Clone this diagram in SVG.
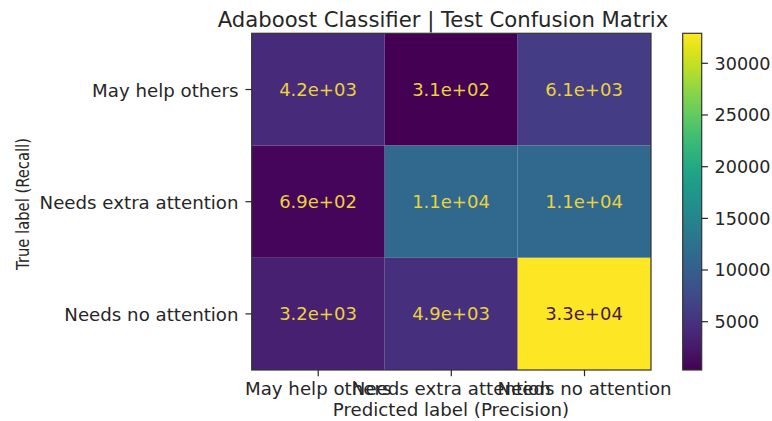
<svg xmlns="http://www.w3.org/2000/svg" width="772" height="421" viewBox="0 0 772 421">
<defs>
<linearGradient id="viridis" x1="0" y1="1" x2="0" y2="0">
<stop offset="0" stop-color="#440154"/>
<stop offset="0.05" stop-color="#471365"/>
<stop offset="0.1" stop-color="#482475"/>
<stop offset="0.15" stop-color="#463480"/>
<stop offset="0.2" stop-color="#414487"/>
<stop offset="0.25" stop-color="#3b528b"/>
<stop offset="0.3" stop-color="#355f8d"/>
<stop offset="0.35" stop-color="#2f6c8e"/>
<stop offset="0.4" stop-color="#2a788e"/>
<stop offset="0.45" stop-color="#25848e"/>
<stop offset="0.5" stop-color="#21918c"/>
<stop offset="0.55" stop-color="#1e9c89"/>
<stop offset="0.6" stop-color="#22a884"/>
<stop offset="0.65" stop-color="#2fb47c"/>
<stop offset="0.7" stop-color="#44bf70"/>
<stop offset="0.75" stop-color="#5ec962"/>
<stop offset="0.8" stop-color="#7ad151"/>
<stop offset="0.85" stop-color="#9bd93c"/>
<stop offset="0.9" stop-color="#bddf26"/>
<stop offset="0.95" stop-color="#dfe318"/>
<stop offset="1" stop-color="#fde725"/>
</linearGradient>
</defs>
<style>
text { font-family: "DejaVu Sans", "Liberation Sans", sans-serif; fill: #262626; }
.tick { font-size: 18.2px; }
.cb { font-size: 17.6px; }
.ylab { font-size: 18px; }
.title { font-size: 21.2px; }
.ann { font-size: 18px; text-anchor: middle; }
.light { fill: #e9d23c; }
.dark { fill: #4a1850; }
.tk { stroke: #262626; stroke-width: 1.2; }
.frame { fill: none; stroke: #333; stroke-width: 1.2; }
</style>
<rect width="772" height="421" fill="#ffffff"/>

<text class="title" x="443" y="26.5" text-anchor="middle">Adaboost Classifier | Test Confusion Matrix</text>

<g id="matrix">
<rect x="251.7" y="33.3" width="133" height="112.3" fill="#472a79"/>
<rect x="384.7" y="33.3" width="133" height="112.3" fill="#440154"/>
<rect x="517.7" y="33.3" width="133.3" height="112.3" fill="#443c84"/>
<rect x="251.7" y="145.6" width="133" height="112.2" fill="#45055a"/>
<rect x="384.7" y="145.6" width="133" height="112.2" fill="#31688e"/>
<rect x="517.7" y="145.6" width="133.3" height="112.2" fill="#31688e"/>
<rect x="251.7" y="257.8" width="133" height="112.2" fill="#482071"/>
<rect x="384.7" y="257.8" width="133" height="112.2" fill="#46307e"/>
<rect x="517.7" y="257.8" width="133.3" height="112.2" fill="#fde725"/>
<rect class="frame" x="251.7" y="33.3" width="399.3" height="336.7"/>
</g>

<g id="annotations">
<text class="ann light" x="318" y="96">4.2e+03</text>
<text class="ann light" x="451" y="96">3.1e+02</text>
<text class="ann light" x="584" y="96">6.1e+03</text>
<text class="ann light" x="318" y="208">6.9e+02</text>
<text class="ann light" x="451" y="208">1.1e+04</text>
<text class="ann light" x="584" y="208">1.1e+04</text>
<text class="ann light" x="318" y="320">3.2e+03</text>
<text class="ann light" x="451" y="320">4.9e+03</text>
<text class="ann dark" x="584" y="320">3.3e+04</text>
</g>

<g id="y-axis">
<line class="tk" x1="245.5" y1="89.5" x2="251.7" y2="89.5"/>
<line class="tk" x1="245.5" y1="201.7" x2="251.7" y2="201.7"/>
<line class="tk" x1="245.5" y1="313.9" x2="251.7" y2="313.9"/>
<text class="tick" x="238.5" y="96.5" text-anchor="end">May help others</text>
<text class="tick" x="238.5" y="208.5" text-anchor="end">Needs extra attention</text>
<text class="tick" x="238.5" y="320.5" text-anchor="end">Needs no attention</text>
<text class="ylab" transform="translate(28.5,204) rotate(-90) scale(0.82,1)" text-anchor="middle">True label (Recall)</text>
</g>

<g id="x-axis">
<line class="tk" x1="318.2" y1="370" x2="318.2" y2="376.2"/>
<line class="tk" x1="451.3" y1="370" x2="451.3" y2="376.2"/>
<line class="tk" x1="584.5" y1="370" x2="584.5" y2="376.2"/>
<text class="tick" x="318.2" y="394.5" text-anchor="middle">May help others</text>
<text class="tick" x="451.3" y="394.5" text-anchor="middle">Needs extra attention</text>
<text class="tick" x="584.5" y="394.5" text-anchor="middle">Needs no attention</text>
<text class="tick" x="451" y="415.5" text-anchor="middle">Predicted label (Precision)</text>
</g>

<g id="colorbar">
<rect x="682.7" y="33.3" width="19" height="336.7" fill="url(#viridis)"/>
<rect class="frame" x="682.7" y="33.3" width="19" height="336.7"/>
<line class="tk" x1="701.7" y1="321.7" x2="707.9" y2="321.7"/>
<line class="tk" x1="701.7" y1="270.0" x2="707.9" y2="270.0"/>
<line class="tk" x1="701.7" y1="218.4" x2="707.9" y2="218.4"/>
<line class="tk" x1="701.7" y1="166.7" x2="707.9" y2="166.7"/>
<line class="tk" x1="701.7" y1="115.0" x2="707.9" y2="115.0"/>
<line class="tk" x1="701.7" y1="63.3" x2="707.9" y2="63.3"/>
<text class="cb" x="714.5" y="328">5000</text>
<text class="cb" x="714.5" y="276.4">10000</text>
<text class="cb" x="714.5" y="224.8">15000</text>
<text class="cb" x="714.5" y="173.1">20000</text>
<text class="cb" x="714.5" y="121.4">25000</text>
<text class="cb" x="714.5" y="69.7">30000</text>
</g>
</svg>
